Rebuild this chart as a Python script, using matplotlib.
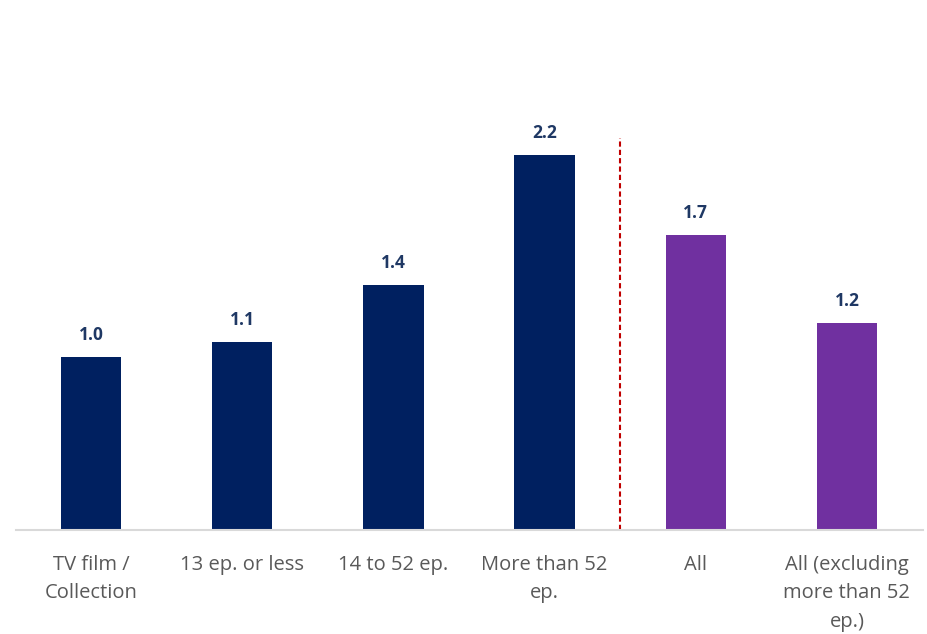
import matplotlib
matplotlib.use("Agg")
import matplotlib.pyplot as plt
import numpy as np

# Data
categories = ["TV film /\nCollection", "13 ep. or less", "14 to 52 ep.",
              "More than 52\nep.", "All", "All (excluding\nmore than 52\nep.)"]
values = [1.0, 1.09, 1.42, 2.17, 1.71, 1.2]
bar_colors = ["#002060", "#002060", "#002060", "#002060", "#7030A0", "#7030A0"]

plt.rcParams['font.family'] = ['Open Sans', 'DejaVu Sans']

fig = plt.figure(figsize=(9.27, 6.34), dpi=100)
ax = fig.add_axes([15.5 / 927, 104 / 634, 907 / 927, 432 / 634])

x = np.arange(len(categories))
bars = ax.bar(x, values, width=0.4, color=bar_colors)

for xi, v in zip(x, values):
    ax.text(xi, v + 0.075, f"{v:.1f}", ha='center', va='bottom',
            fontsize=12.5, fontweight='bold', color='#1F3864')

# separator between the episode groups and the totals
ax.vlines(3.5, 0, 2.27, colors='#C00000', linestyles=(0, (2.5, 1.5)), linewidth=1.5)

ax.set_xlim(-0.5, 5.5)
ax.set_ylim(0, 2.5)
ax.set_xticks(x)
ax.set_xticklabels(categories, fontsize=14.5, color='#595959', linespacing=1.55)
ax.tick_params(axis='x', length=0, pad=18)
ax.set_yticks([])
for side in ['top', 'right', 'left']:
    ax.spines[side].set_visible(False)
ax.spines['bottom'].set_color('#D9D9D9')
ax.spines['bottom'].set_linewidth(1.5)

fig.savefig("out.png", dpi=100)
